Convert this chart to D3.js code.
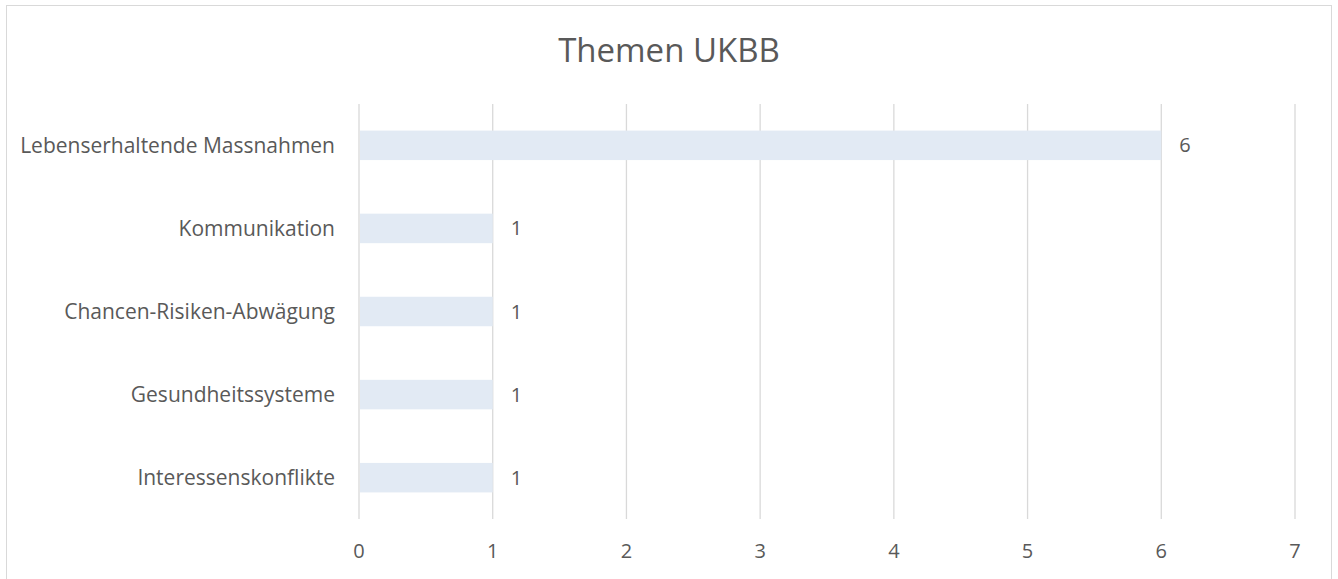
<!DOCTYPE html>
<html>
<head>
<meta charset="utf-8">
<script src="https://cdn.jsdelivr.net/npm/d3@7"></script>
<style>
  body { margin: 0; background: #fff; }
  text { font-family: "Open Sans", "Noto Sans", sans-serif; fill: #595959; }
</style>
</head>
<body>
<svg id="chart"></svg>
<script>
// data
const categories = ["Lebenserhaltende Massnahmen", "Kommunikation", "Chancen-Risiken-Abwägung", "Gesundheitssysteme", "Interessenskonflikte"];
const values = [6, 1, 1, 1, 1];
const xTicks = [0, 1, 2, 3, 4, 5, 6, 7];
const title = "Themen UKBB";

const W = 1338, H = 579;
const margin = {top: 104, right: 43, bottom: 60, left: 359};
const width = W - margin.left - margin.right;
const height = H - margin.top - margin.bottom;

const svg = d3.select("#chart").attr("width", W).attr("height", H);

// chart frame
svg.append("rect")
    .attr("x", 6.5).attr("y", 5.5)
    .attr("width", 1325).attr("height", 600)
    .attr("fill", "none").attr("stroke", "#d9d9d9");

// title
svg.append("text")
    .attr("x", 669).attr("y", 62)
    .attr("text-anchor", "middle")
    .style("font-size", "33px")
    .text(title);

const g = svg.append("g").attr("transform", `translate(${margin.left},${margin.top})`);

const x = d3.scaleLinear().domain([0, 7]).range([0, width]);
const y = d3.scaleBand().domain(categories).range([0, height]).paddingInner(0.645).paddingOuter(0.32);

// gridlines
g.selectAll(".grid")
    .data(xTicks)
    .enter().append("line")
    .attr("x1", d => x(d)).attr("x2", d => x(d))
    .attr("y1", 0).attr("y2", height)
    .attr("stroke", "#d9d9d9").attr("stroke-width", 1.3);

// bars
g.selectAll(".bar")
    .data(values)
    .enter().append("rect")
    .attr("x", x(0) + 1)
    .attr("y", (d, i) => y(categories[i]))
    .attr("width", d => x(d) - x(0) - 1)
    .attr("height", y.bandwidth())
    .attr("fill", "#e2eaf4");

// value labels
g.selectAll(".val")
    .data(values)
    .enter().append("text")
    .attr("x", d => x(d) + 18)
    .attr("y", (d, i) => y(categories[i]) + y.bandwidth() / 2)
    .attr("dy", "0.35em")
    .style("font-size", "20px")
    .text(d => d);

// y labels
g.selectAll(".cat")
    .data(categories)
    .enter().append("text")
    .attr("x", -24)
    .attr("y", d => y(d) + y.bandwidth() / 2)
    .attr("dy", "0.35em")
    .attr("text-anchor", "end")
    .style("font-size", "21px")
    .text(d => d);

// x tick labels
g.selectAll(".tick-label")
    .data(xTicks)
    .enter().append("text")
    .attr("x", d => x(d))
    .attr("y", height + 32)
    .attr("dy", "0.35em")
    .attr("text-anchor", "middle")
    .style("font-size", "20px")
    .text(d => d);
</script>
</body>
</html>
